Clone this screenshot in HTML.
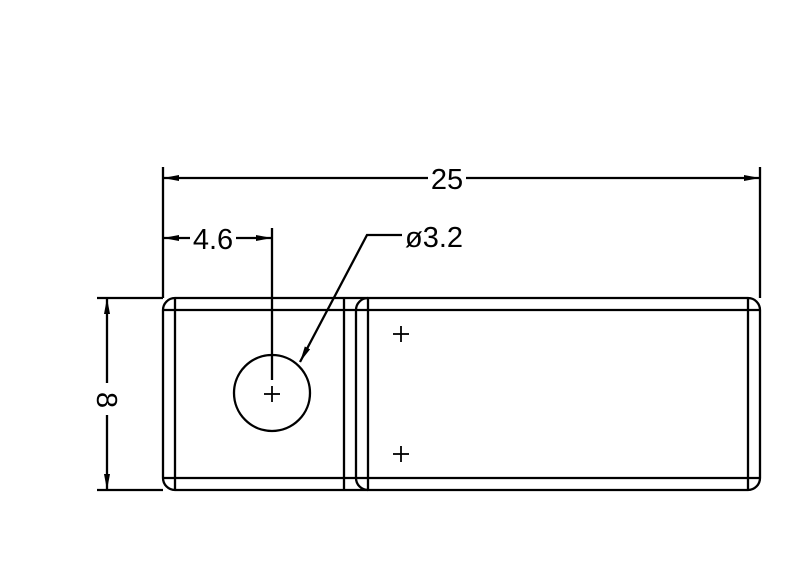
<!DOCTYPE html>
<html><head><style>body{margin:0;background:#fff}svg{display:block}</style></head><body>
<svg width="800" height="577" viewBox="0 0 800 577" xmlns="http://www.w3.org/2000/svg">
<defs><marker id="a" markerWidth="16" markerHeight="6" refX="16" refY="3" orient="auto-start-reverse" markerUnits="userSpaceOnUse"><path d="M0,0 L16,3 L0,6 Z" fill="#000"/></marker></defs>
<g stroke="#000" stroke-width="2.3" fill="none">
<path d="M175,298 H748 A12,12 0 0 1 760,310 V478 A12,12 0 0 1 748,490 H175 A12,12 0 0 1 163,478 V310 A12,12 0 0 1 175,298 Z"/>
<line x1="163" y1="310" x2="760" y2="310"/>
<line x1="163" y1="478" x2="760" y2="478"/>
<line x1="175" y1="298" x2="175" y2="490"/>
<line x1="748" y1="298" x2="748" y2="490"/>
<line x1="344" y1="298" x2="344" y2="490"/>
<path d="M368,298 A12,12 0 0 0 356,310 V478 A12,12 0 0 0 368,490"/>
<line x1="368" y1="298" x2="368" y2="490"/>
<circle cx="272" cy="393" r="38"/>
<line x1="163" y1="167" x2="163" y2="298"/>
<line x1="760" y1="167" x2="760" y2="298"/>
<line x1="97" y1="298" x2="163" y2="298"/>
<line x1="97" y1="490" x2="163" y2="490"/>
<line x1="272" y1="228" x2="272" y2="380"/>
<line x1="163" y1="178" x2="428" y2="178" marker-start="url(#a)"/>
<line x1="466" y1="178" x2="760" y2="178" marker-end="url(#a)"/>
<line x1="163" y1="238" x2="190" y2="238" marker-start="url(#a)"/>
<line x1="236" y1="238" x2="272" y2="238" marker-end="url(#a)"/>
<line x1="107" y1="298" x2="107" y2="383" marker-start="url(#a)"/>
<line x1="107" y1="415" x2="107" y2="490" marker-end="url(#a)"/>
<polyline points="402,235 367,235 300,362" marker-end="url(#a)"/>
</g>
<g stroke="#000" stroke-width="1.8">
<line x1="264" y1="394" x2="280" y2="394"/><line x1="272" y1="386" x2="272" y2="402"/>
<line x1="393" y1="334" x2="409" y2="334"/><line x1="401" y1="326" x2="401" y2="342"/>
<line x1="393" y1="454" x2="409" y2="454"/><line x1="401" y1="446" x2="401" y2="462"/>
</g>
<g font-family="Liberation Sans, sans-serif" font-size="29" fill="#000">
<text x="447" y="189" text-anchor="middle">25</text>
<text x="213" y="249" text-anchor="middle">4.6</text>
<text x="405" y="247">ø3.2</text>
<text x="0" y="0" text-anchor="middle" transform="translate(97,400) rotate(90)">8</text>
</g>
</svg>
</body></html>
